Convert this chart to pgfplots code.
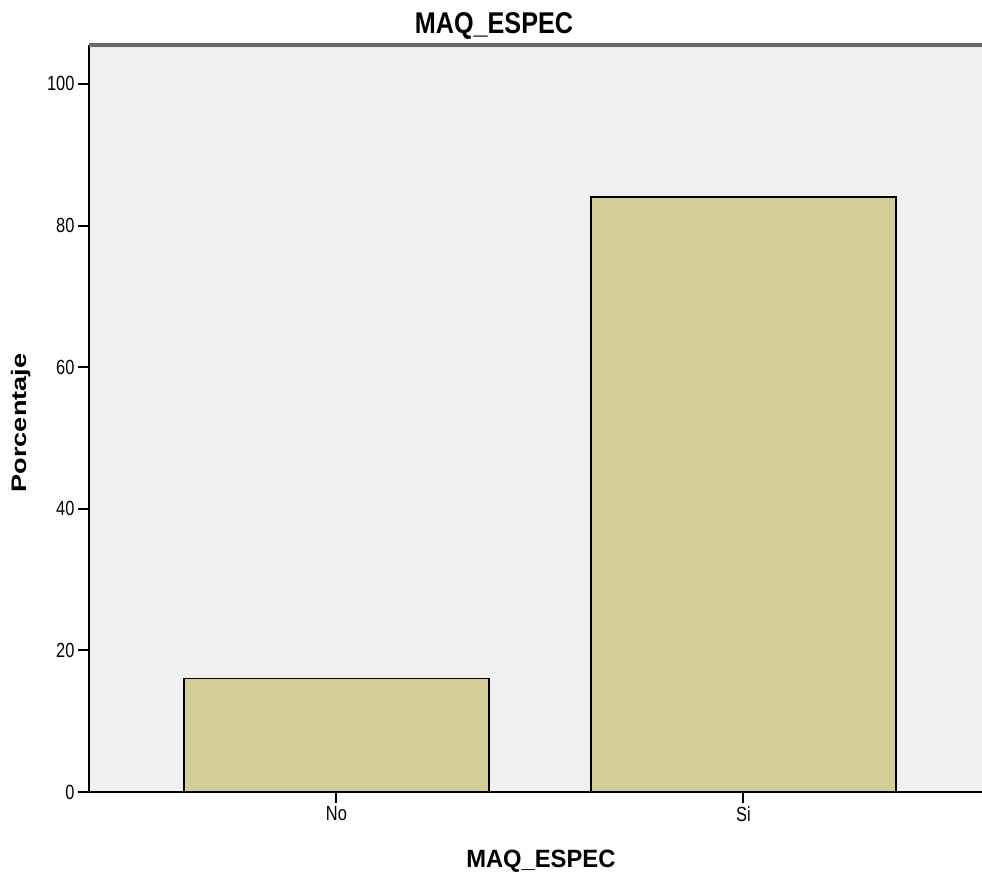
\documentclass[border=0pt]{standalone}
\usepackage{fontspec}
\setmainfont{Liberation Sans}
\newfontfamily\ticksfont{Liberation Sans}[FakeStretch=0.8]
\newfontfamily\titlefont{Liberation Sans}[FakeStretch=0.84]
\newfontfamily\xlabfont{Liberation Sans}[FakeStretch=0.95]
\newfontfamily\ylabfont{Liberation Sans}[FakeStretch=1.29]
\usepackage{pgfplots}
\pgfplotsset{compat=1.18}
\definecolor{bgc}{RGB}{240,240,240}
\definecolor{barc}{RGB}{211,206,151}
\definecolor{topc}{RGB}{105,105,105}
\begin{document}
\begin{tikzpicture}[x=1pt,y=1pt]
\useasboundingbox (0,0) rectangle (982,877);
\begin{axis}[
  scale only axis,
  width=893pt, height=747pt,
  at={(89pt,85pt)}, anchor=south west,
  xmin=-0.608, xmax=1.586,
  ymin=0, ymax=105.5,
  axis background/.style={fill=bgc},
  axis x line*=bottom, axis y line*=left,
  axis line style={-, black, line width=2pt},
  xtick={0,1}, xticklabels={No,Si},
  ytick={0,20,40,60,80,100},
  tick align=outside,
  major tick length=11pt,
  tick style={black, line width=2pt},
  /pgf/number format/assume math mode=true,
  ticklabel style={font=\ticksfont\fontsize{20.5}{24}\selectfont},
  title={MAQ\_ESPEC},
  title style={at={(0.4535,1)}, anchor=base, yshift=5pt, font=\titlefont\bfseries\fontsize{30}{34}\selectfont},
  xlabel={MAQ\_ESPEC},
  xlabel style={at={(axis description cs:0.506,0)}, anchor=base, yshift=-76pt, font=\xlabfont\bfseries\fontsize{25}{28}\selectfont},
  ylabel={Porcentaje},
  ylabel style={at={(axis description cs:-0.0705,0.494)}, anchor=base, font=\ylabfont\bfseries\fontsize{21}{24}\selectfont},
  clip=false,
]
\addplot[ybar, bar width=0.75, fill=barc, draw=black, line width=1.5pt] coordinates {(0,16) (1,84)};
\draw[topc, line width=3.5pt] (rel axis cs:0,1) -- (rel axis cs:1.01,1);
\end{axis}
\end{tikzpicture}
\end{document}
